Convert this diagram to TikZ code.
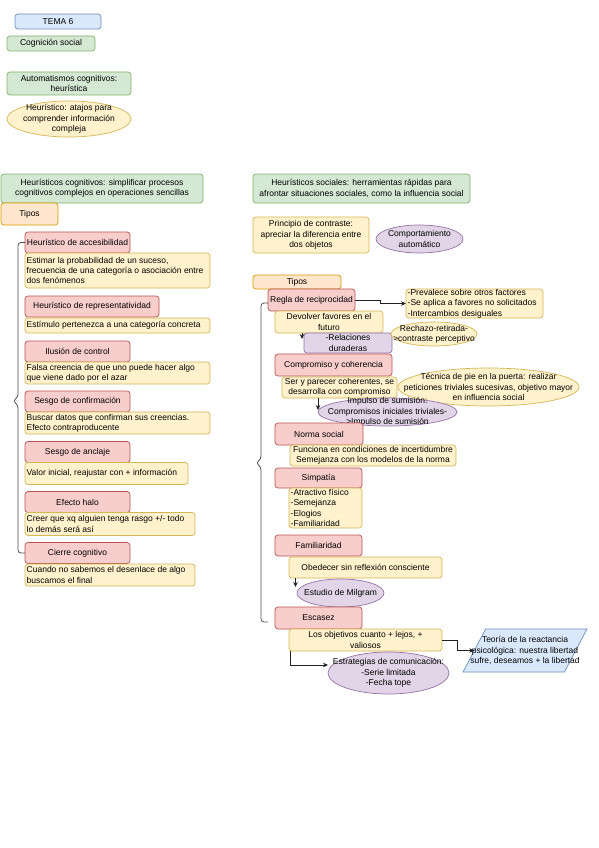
\documentclass[tikz,border=0pt]{standalone}
\usepackage{fontspec}
\setmainfont{Liberation Sans}
\usetikzlibrary{shapes.geometric,arrows.meta,calc}
\definecolor{bfill}{HTML}{DAE8FC}\definecolor{bline}{HTML}{6C8EBF}
\definecolor{gfill}{HTML}{D5E8D4}\definecolor{gline}{HTML}{82B366}
\definecolor{yfill}{HTML}{FFF2CC}\definecolor{yline}{HTML}{D6B656}
\definecolor{ofill}{HTML}{FFE6CC}\definecolor{oline}{HTML}{D79B00}
\definecolor{rfill}{HTML}{F8CECC}\definecolor{rline}{HTML}{B85450}
\definecolor{pfill}{HTML}{E1D5E7}\definecolor{pline}{HTML}{9673A6}
\definecolor{edgec}{HTML}{222222}
\newcommand\dfs{\fontsize{8.5}{10.4}\selectfont}
\tikzset{
 base/.style={line width=0.7pt, inner sep=0pt, outer sep=0pt},
 rb/.style={base, draw, rectangle, rounded corners=3pt},
 el/.style={base, draw, ellipse},
 sz/.style 2 args={minimum width=#1pt, minimum height=#2pt},
 txt/.style={font=\dfs, inner sep=1.5pt, text=black},
 tc/.style={label={[txt, align=center]center:{#1}}},
 tl/.style={label={[txt, align=left, anchor=west]west:{#1}}},
 bbox/.style={fill=bfill, draw=bline},
 gbox/.style={fill=gfill, draw=gline},
 ybox/.style={fill=yfill, draw=yline},
 obox/.style={fill=ofill, draw=oline},
 rbx/.style={fill=rfill, draw=rline},
 pbox/.style={fill=pfill, draw=pline},
 arr/.style={line width=0.7pt, draw=edgec, -{Stealth[length=5pt,width=4.5pt]}},
 brace/.style={line width=0.8pt, draw=edgec!80, rounded corners=3pt},
}
\begin{document}
\begin{tikzpicture}[x=1pt,y=-1pt]
\fill[white] (0,0) rectangle (599,848);
\useasboundingbox (0,0) rectangle (599,848);

% top left
\node[rb,bbox,sz={86}{15},tc={TEMA 6}] (tema) at (58,21.5) {};
\node[rb,gbox,sz={88}{15},tc={Cognición social}] (cogn) at (51,43.5) {};
\node[rb,gbox,sz={124}{23},tc={Automatismos cognitivos:\\heurística}] (autom) at (69,83.5) {};
\node[el,ybox,sz={124}{36},tc={Heurístico: atajos para\\comprender información\\compleja}] (heur) at (69,119) {};

% left column
\node[rb,gbox,sz={202}{29},tc={Heurísticos cognitivos: simplificar procesos\\cognitivos complejos en operaciones sencillas}] (hcog) at (102,188.5) {};
\node[rb,obox,sz={57}{22},tc={Tipos}] (tiposL) at (29.5,214) {};

\node[rb,rbx,sz={105}{21},tc={Heurístico de accesibilidad}] (acc) at (77.5,242.5) {};
\node[rb,ybox,sz={185}{35},tl={Estimar la probabilidad de un suceso,\\frecuencia de una categoría o asociación entre\\dos fenómenos}] (accd) at (117.5,270.5) {};
\node[rb,rbx,sz={134}{21},tc={Heurístico de representatividad}] (rep) at (92,306.5) {};
\node[rb,ybox,sz={185}{15},tl={Estímulo pertenezca a una categoría concreta}] (repd) at (117.5,325.5) {};
\node[rb,rbx,sz={105}{21},tc={Ilusión de control}] (ilu) at (77.5,351.5) {};
\node[rb,ybox,sz={185}{22},tl={Falsa creencia de que uno puede hacer algo\\que viene dado por el azar}] (ilud) at (117.5,373) {};
\node[rb,rbx,sz={105}{21},tc={Sesgo de confirmación}] (conf) at (77.5,401.5) {};
\node[rb,ybox,sz={185}{22},tl={Buscar datos que confirman sus creencias.\\Efecto contraproducente}] (confd) at (117.5,423) {};
\node[rb,rbx,sz={105}{21},tc={Sesgo de anclaje}] (ancl) at (77.5,452) {};
\node[rb,ybox,sz={163}{22},tl={Valor inicial, reajustar con + información}] (ancld) at (106.5,473.5) {};
\node[rb,rbx,sz={105}{21},tc={Efecto halo}] (halo) at (77.5,502) {};
\node[rb,ybox,sz={170}{23},tl={Creer que xq alguien tenga rasgo +/- todo\\lo demás será así}] (halod) at (110,524) {};
\node[rb,rbx,sz={105}{21},tc={Cierre cognitivo}] (cierre) at (77.5,553) {};
\node[rb,ybox,sz={170}{22},tl={Cuando no sabemos el desenlace de algo\\buscamos el final}] (cierred) at (110,575) {};

\draw[brace] (acc.west) -- (18,242.5) -- (18,397) -- (13,401) -- (18,405) -- (18,553) -- (cierre.west);

% right column
\node[rb,gbox,sz={217}{29},tc={Heurísticos sociales: herramientas rápidas para\\afrontar situaciones sociales, como la influencia social}] (hsoc) at (361.5,188.5) {};
\node[rb,ybox,sz={116}{36},tc={Principio de contraste:\\apreciar la diferencia entre\\dos objetos}] (contr) at (311,235) {};
\node[el,pbox,sz={87}{28},tc={Comportamiento\\automático}] (compa) at (419.5,239) {};

\node[rb,obox,sz={88}{14},tc={Tipos}] (tiposR) at (297,282) {};
\node[rb,rbx,sz={87}{22},tc={Regla de reciprocidad}] (recip) at (311.5,300) {};
\node[rb,ybox,sz={137}{29},tl={-Prevalece sobre otros factores\\-Se aplica a favores no solicitados\\-Intercambios desiguales}] (recl) at (474.5,303.5) {};
\node[rb,ybox,sz={108}{22},tc={Devolver favores en el\\futuro}] (devol) at (329,322) {};
\node[rb,pbox,sz={88}{20},tc={-Relaciones\\duraderas}] (rel) at (348,343) {};
\node[el,ybox,sz={86}{24},tc={Rechazo-retirada-\\>contraste perceptivo}] (rech) at (434,334) {};

\node[rb,rbx,sz={117}{22},tc={Compromiso y coherencia}] (compr) at (333.5,365) {};
\node[rb,ybox,sz={115}{21},tc={Ser y parecer coherentes, se\\desarrolla con compromiso}] (ser) at (339.5,387.5) {};
\node[el,ybox,sz={181}{38},tc={Técnica de pie en la puerta: realizar\\peticiones triviales sucesivas, objetivo mayor\\en influencia social}] (tec) at (488.5,387) {};
\node[el,pbox,sz={139}{28},tc={Impulso de sumisión:\\Compromisos iniciales triviales-\\>Impulso de sumisión}] (imp) at (387.5,412) {};

\node[rb,rbx,sz={88}{22},tc={Norma social}] (norma) at (319,434) {};
\node[rb,ybox,sz={166}{21},tc={Funciona en condiciones de incertidumbre\\Semejanza con los modelos de la norma}] (func) at (373,455.5) {};

\node[rb,rbx,sz={87}{20},tc={Simpatía}] (simp) at (318.5,478) {};
\node[rb,ybox,sz={73}{40},tl={-Atractivo físico\\-Semejanza\\-Elogios\\-Familiaridad}] (simpl) at (325.5,508) {};

\node[rb,rbx,sz={87}{21},tc={Familiaridad}] (fam) at (318.5,545.5) {};
\node[rb,ybox,sz={153}{21},tc={Obedecer sin reflexión consciente}] (obe) at (365.5,567.5) {};
\node[el,pbox,sz={87}{28},tc={Estudio de Milgram}] (mil) at (340.5,593) {};

\node[rb,rbx,sz={87}{22},tc={Escasez}] (esc) at (318.5,618) {};
\node[rb,ybox,sz={153}{22},tc={Los objetivos cuanto + lejos, +\\valiosos}] (obj) at (365.5,640) {};
\node[base,inner sep=2pt,draw,trapezium,trapezium left angle=74,trapezium right angle=106,trapezium stretches=true,bbox,sz={124}{43},tc={Teoría de la reactancia\\psicológica: nuestra libertad\\sufre, deseamos + la libertad}] (teo) at (525,650.5) {};
\node[el,pbox,sz={121}{42},tc={Estrategias de comunicación:\\-Serie limitada\\-Fecha tope}] (estr) at (388.5,673) {};

% right brace
\coordinate (bend) at (268,622);
\draw[brace] ([yshift=-3pt]recip.west) -- (261,303) -- (261,459) -- (256,463) -- (261,467) -- (261,622) -- (bend);

% connectors
\draw[arr] (recip.east) -- ++(25,0) |- (recl.west);
\draw[arr] ([xshift=-27pt]devol.south) -- ++(0,6);
\draw[arr] ([xshift=-21.5pt]ser.south) -- ++(0,12);
\draw[arr] ([xshift=-70pt]obe.south) -- ++(0,9);
\draw[arr] (obj.east) -- ++(15,0) |- (teo.west);
\draw[arr] ([xshift=1pt]obj.south west) |- ([yshift=8pt]estr.west);
\end{tikzpicture}
\end{document}
